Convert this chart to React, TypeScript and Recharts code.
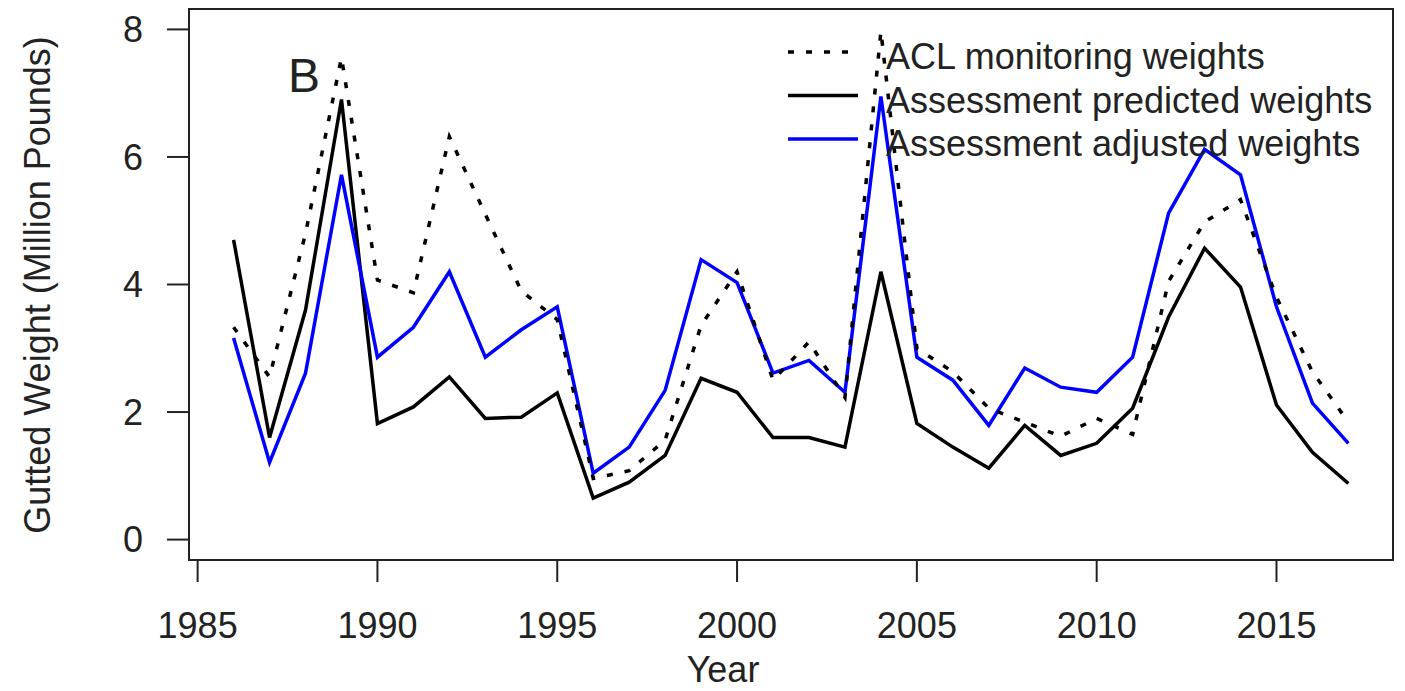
import React from "react";
import {
  LineChart,
  Line,
  XAxis,
  YAxis,
  ReferenceArea,
  Legend,
} from "recharts";

const years = [
  1986, 1987, 1988, 1989, 1990, 1991, 1992, 1993, 1994, 1995, 1996, 1997,
  1998, 1999, 2000, 2001, 2002, 2003, 2004, 2005, 2006, 2007, 2008, 2009,
  2010, 2011, 2012, 2013, 2014, 2015, 2016, 2017,
];

// ACL monitoring weights (dotted)
const aclWeights = [
  3.33, 2.55, 4.8, 7.56, 4.07, 3.87, 6.32, 5.1, 3.9, 3.45, 0.96, 1.08,
  1.56, 3.36, 4.2, 2.5, 3.1, 2.23, 7.97, 3.0, 2.63, 2.06, 1.84, 1.62,
  1.9, 1.65, 4.05, 4.98, 5.33, 3.8, 2.63, 1.84,
];

// Assessment predicted weights (black)
const predictedWeights = [
  4.7, 1.6, 3.6, 6.9, 1.82, 2.08, 2.55, 1.9, 1.92, 2.3, 0.65, 0.9,
  1.32, 2.53, 2.31, 1.6, 1.6, 1.45, 4.2, 1.82, 1.45, 1.12, 1.79, 1.32,
  1.51, 2.06, 3.49, 4.57, 3.96, 2.11, 1.37, 0.88,
];

// Assessment adjusted weights (blue)
const adjustedWeights = [
  3.16, 1.21, 2.61, 5.72, 2.86, 3.33, 4.2, 2.86, 3.29, 3.65, 1.04, 1.45,
  2.34, 4.39, 4.03, 2.61, 2.81, 2.31, 6.95, 2.86, 2.5, 1.79, 2.69, 2.39,
  2.31, 2.86, 5.12, 6.12, 5.72, 3.65, 2.14, 1.51,
];

const xTicks = [1985, 1990, 1995, 2000, 2005, 2010, 2015];
const yTicks = [0, 2, 4, 6, 8];

const legendItems = [
  { label: "ACL monitoring weights", color: "#000", dash: "6 12" },
  { label: "Assessment predicted weights", color: "#000", dash: undefined },
  { label: "Assessment adjusted weights", color: "#0000ff", dash: undefined },
];

const data = years.map((year, i) => ({
  year,
  acl: aclWeights[i],
  predicted: predictedWeights[i],
  adjusted: adjustedWeights[i],
}));

const X_DOMAIN: [number, number] = [1984.76, 2018.24];
const Y_DOMAIN: [number, number] = [-0.32, 8.32];
const FONT = "'Liberation Sans', Arial, sans-serif";
const TEXT = "#222";

// panel letter + legend, drawn in chart pixels
const renderLegend = () => (
  <svg width={1405} height={691} style={{ fontFamily: FONT }}>
    <text x={288} y={92} fontSize={48} fill={TEXT}>
      B
    </text>
    {legendItems.map((item, i) => (
      <g key={item.label}>
        <line
          x1={788}
          x2={858}
          y1={52 + i * 43.5}
          y2={52 + i * 43.5}
          stroke={item.color}
          strokeWidth={3.5}
          strokeDasharray={item.dash}
        />
        <text x={886} y={69 + i * 43.5} fontSize={36} fill={TEXT}>
          {item.label}
        </text>
      </g>
    ))}
  </svg>
);

const yLabel = () => (
  <text
    x={50}
    y={285}
    transform="rotate(-90, 50, 285)"
    textAnchor="middle"
    fontSize={36}
    fill={TEXT}
    fontFamily={FONT}
  >
    Gutted Weight (Million Pounds)
  </text>
);

const xLabel = () => (
  <text
    x={723}
    y={682}
    textAnchor="middle"
    fontSize={36}
    fill={TEXT}
    fontFamily={FONT}
  >
    Year
  </text>
);

export default function App() {
  return (
    <div
      style={{
        position: "absolute",
        left: 0,
        top: 0,
        width: 1405,
        height: 691,
        background: "#fff",
      }}
    >
      <LineChart
        width={1405}
        height={691}
        data={data}
        margin={{ top: 9, right: 12, bottom: 0, left: 0 }}
      >
        <XAxis
          dataKey="year"
          type="number"
          domain={X_DOMAIN}
          ticks={xTicks}
          allowDataOverflow
          height={131}
          axisLine={false}
          tickSize={22}
          tickMargin={30}
          tickLine={{ stroke: TEXT, strokeWidth: 2 }}
          tick={{ fontSize: 36, fill: TEXT, fontFamily: FONT }}
          label={xLabel}
        />
        <YAxis
          type="number"
          domain={Y_DOMAIN}
          ticks={yTicks}
          allowDataOverflow
          width={189}
          axisLine={false}
          tickSize={22}
          tickMargin={24}
          tickLine={{ stroke: TEXT, strokeWidth: 2 }}
          tick={{ fontSize: 36, fill: TEXT, fontFamily: FONT }}
          label={yLabel}
        />
        <ReferenceArea
          x1={X_DOMAIN[0]}
          x2={X_DOMAIN[1]}
          y1={Y_DOMAIN[0]}
          y2={Y_DOMAIN[1]}
          fill="none"
          stroke={TEXT}
          strokeWidth={2}
          ifOverflow="visible"
        />
        <Line
          dataKey="predicted"
          stroke="#000"
          strokeWidth={3.5}
          dot={false}
          isAnimationActive={false}
        />
        <Line
          dataKey="adjusted"
          stroke="#0000ff"
          strokeWidth={3.5}
          dot={false}
          isAnimationActive={false}
        />
        <Line
          dataKey="acl"
          stroke="#000"
          strokeWidth={3.5}
          strokeDasharray="6 12"
          dot={false}
          isAnimationActive={false}
        />
        <Legend
          layout="horizontal"
          verticalAlign="middle"
          align="center"
          content={renderLegend}
          wrapperStyle={{
            position: "absolute",
            left: 0,
            top: 0,
            width: 1405,
            height: 691,
            pointerEvents: "none",
          }}
        />
      </LineChart>
    </div>
  );
}
